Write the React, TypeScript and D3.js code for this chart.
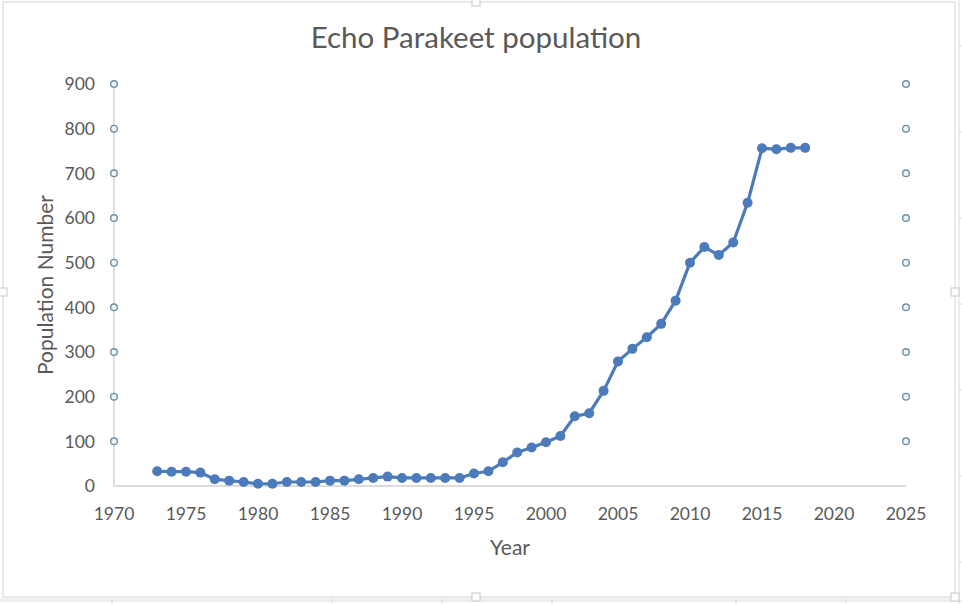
import React from "react";
import * as d3 from "d3";

// Echo Parakeet population
const years = [
  1973, 1974, 1975, 1976, 1977, 1978, 1979, 1980, 1981, 1982, 1983, 1984,
  1985, 1986, 1987, 1988, 1989, 1990, 1991, 1992, 1993, 1994, 1995, 1996,
  1997, 1998, 1999, 2000, 2001, 2002, 2003, 2004, 2005, 2006, 2007, 2008,
  2009, 2010, 2011, 2012, 2013, 2014, 2015, 2016, 2017, 2018,
];
const population = [
  33, 32, 32, 30, 15, 12, 9, 5, 5, 9, 9, 9, 12, 12, 15, 18, 21, 18, 18, 18,
  18, 18, 28, 33, 53, 75, 86, 98, 112, 156, 163, 213, 279, 307, 333, 363,
  415, 500, 535, 517, 545, 634, 756, 754, 757, 757,
];

// helper series that pins the axes (hollow markers at both ends)
const guideYears = [1970, 2025];
const guideValues = [100, 200, 300, 400, 500, 600, 700, 800, 900];

const xTicks = [1970, 1975, 1980, 1985, 1990, 1995, 2000, 2005, 2010, 2015, 2020, 2025];
const yTicks = [0, 100, 200, 300, 400, 500, 600, 700, 800, 900];

const W = 962;
const H = 604;
const FONT = "Lato, 'Open Sans', sans-serif";
const TEXT = "#595959";
const BLUE = "#4b7bbb";

export default function App() {
  const x = d3.scaleLinear().domain([1970, 2025]).range([114, 906]);
  const y = d3.scaleLinear().domain([0, 900]).range([486, 84]);

  const pts = years.map((yr, i) => ({ yr, v: population[i] }));
  const line = d3
    .line<{ yr: number; v: number }>()
    .x((d) => x(d.yr))
    .y((d) => y(d.v));

  const handle = (cx: number, cy: number, key: string) => (
    <rect key={key} x={cx - 4} y={cy - 4} width={8} height={8} fill="white" stroke="#c8c8c8" />
  );

  return (
    <div style={{ position: "fixed", left: 0, top: 0 }}>
      <svg width={W} height={H} style={{ display: "block", background: "white" }}>
        {/* spreadsheet grid peeking out around the chart frame */}
        <line x1={0} x2={W} y1={601} y2={601} stroke="#d9d9d9" />
        {[112, 332, 442, 552, 736, 846].map((gx) => (
          <line key={gx} x1={gx} x2={gx} y1={598} y2={H} stroke="#e0e0e0" />
        ))}
        <line x1={959} x2={959} y1={0} y2={H} stroke="#d9d9d9" />
        {[46, 132, 218, 304, 390, 476, 562].map((gy) => (
          <line key={gy} x1={959} x2={W} y1={gy} y2={gy} stroke="#e0e0e0" />
        ))}

        {/* chart frame */}
        <rect x={3} y={2} width={952} height={595} fill="white" stroke="#d4d4d4" />
        <line x1={0} x2={957} y1={599} y2={599} stroke="#e4e4e4" />
        {handle(476, 2, "ht")}
        {handle(476, 597, "hb")}
        {handle(3, 292, "hl")}
        {handle(955, 292, "hr")}
        {handle(955, 597, "hbr")}

        <text
          x={476}
          y={48}
          textAnchor="middle"
          fontFamily={FONT}
          fontSize={29.5}
          fill={TEXT}
        >
          Echo Parakeet population
        </text>

        {/* axes */}
        <line x1={x(1970)} x2={x(2025)} y1={y(0)} y2={y(0)} stroke="#d0d0d0" strokeWidth={1.3} />
        <line x1={x(1970)} x2={x(1970)} y1={y(0)} y2={y(900)} stroke="#d0d0d0" strokeWidth={1.3} />

        {yTicks.map((t) => (
          <text
            key={t}
            x={95}
            y={y(t)}
            dy="0.36em"
            textAnchor="end"
            fontFamily={FONT}
            fontSize={17.5}
            fill={TEXT}
          >
            {t}
          </text>
        ))}
        {xTicks.map((t) => (
          <text
            key={t}
            x={x(t)}
            y={520}
            textAnchor="middle"
            fontFamily={FONT}
            fontSize={17.5}
            fill={TEXT}
          >
            {t}
          </text>
        ))}

        <text
          x={510}
          y={555}
          textAnchor="middle"
          fontFamily={FONT}
          fontSize={21}
          fill={TEXT}
        >
          Year
        </text>
        <text
          transform={`translate(53,285) rotate(-90)`}
          textAnchor="middle"
          fontFamily={FONT}
          fontSize={21}
          fill={TEXT}
        >
          Population Number
        </text>

        {/* guide series */}
        {guideYears.map((gy) =>
          guideValues.map((gv) => (
            <circle
              key={`${gy}-${gv}`}
              cx={x(gy)}
              cy={y(gv)}
              r={3.3}
              fill="#eef6f9"
              stroke="#6f90a6"
              strokeWidth={1.4}
            />
          ))
        )}

        {/* population series */}
        <path d={line(pts) || ""} fill="none" stroke={BLUE} strokeWidth={3.2} strokeLinejoin="round" />
        {pts.map((d) => (
          <circle key={d.yr} cx={x(d.yr)} cy={y(d.v)} r={5} fill={BLUE} />
        ))}
      </svg>
    </div>
  );
}
